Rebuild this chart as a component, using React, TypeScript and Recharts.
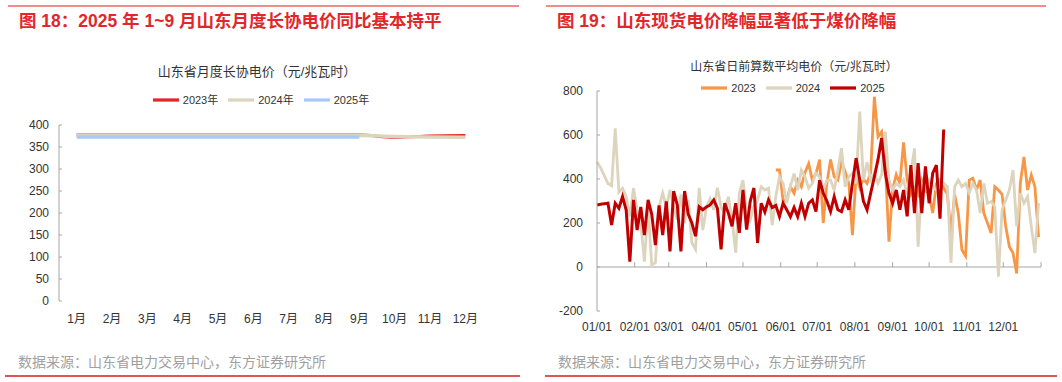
import { LineChart, Line, XAxis, YAxis, Legend, ReferenceLine } from "recharts";

const FONT = '"Liberation Sans", Arial, "Noto Sans CJK SC", sans-serif';
const AXIS = "#A6A6A6";

// 图18: monthly long-term contract price (元/兆瓦时)
const monthLabels = ["1月", "2月", "3月", "4月", "5月", "6月", "7月", "8月", "9月", "10月", "11月", "12月"];
const contract2023 = [377, 377, 377, 377, 377, 377, 377, 377, 377, 372, 375, 376];
const contract2024 = [376, 376, 376, 376, 376, 376, 376, 376, 376, 374, 373, 372];
const contract2025 = [373, 373, 373, 373, 373, 373, 373, 373, 373];

// 图19: day-ahead average spot price, read every 3 days
const STEP = 3;
const spot2023StartDay = 147;
const spot2023 = [
  441, 441, 300, 305, 365, 336, 395, 365, 430, 470,
  395, 425, 488, 200, 380, 489, 410, 395, 476, 433,
  380, 145, 420, 360, 400, 380, 430, 774, 592, 615,
  470, 115, 350, 420, 380, 566, 395, 330, 360, 330,
  395, 350, 330, 245, 380, 395, 360, 330, 155, 330,
  245, 77, 50, 395, 403, 350, 395, 245, 200, 155,
  365, 350, 330, 185, 92, 64, -29, 380, 500, 350,
  418, 365, 136,
];
const spot2024 = [
  479, 450, 415, 380, 370, 630, 340, 358, 320, 230,
  358, 260, 200, 24, 273, 9, 20, 273, 336, 273,
  350, 273, 215, 330, 200, 305, 110, 80, 360, 168,
  273, 310, 260, 360, 273, 245, 320, 215, 65, 336,
  395, 252, 214, 275, 305, 365, 350, 358, 190, 320,
  410, 380, 290, 365, 425, 350, 440, 410, 358, 380,
  425, 410, 350, 395, 395, 350, 440, 540, 365, 410,
  425, 380, 706, 395, 476, 395, 425, 380, 420, 615,
  395, 350, 380, 365, 395, 330, 430, 539, 92, 380,
  350, 395, 365, 350, 395, 380, 365, 18, 365, 395,
  365, 380, 336, 380, 350, 245, 380, 290, 298, 275,
  -44, 260, 305, 350, 440, 185, 336, 290, 320, 185,
  63, 290,
];
const spot2025 = [
  282, 285, 288, 290, 191, 290, 267, 320, 259, 24,
  305, 168, 273, 145, 305, 240, 100, 280, 145, 298,
  71, 345, 282, 71, 345, 240, 200, 140, 273, 260,
  273, 282, 305, 267, 80, 290, 245, 185, 290, 155,
  350, 170, 300, 359, 109, 290, 250, 305, 270, 280,
  229, 290, 260, 229, 270, 229, 290, 230, 290, 305,
  252, 395, 336, 300, 252, 320, 260, 252, 305, 260,
  380, 495, 395, 300, 260, 336, 410, 488, 586, 427,
  336, 290, 350, 260, 350, 230, 463, 245, 472, 245,
  457, 290, 427, 463, 220, 625,
];
const monthStartDays = [0, 31, 59, 90, 120, 151, 181, 212, 243, 273, 304, 334];
const dateLabels = ["01/01", "02/01", "03/01", "04/01", "05/01", "06/01", "07/01", "08/01", "09/01", "10/01", "11/01", "12/01"];

const contractData = monthLabels.map((_, i) => ({
  m: i + 1,
  y2023: contract2023[i],
  y2024: contract2024[i],
  y2025: i < contract2025.length ? contract2025[i] : null,
}));

const spotData = spot2024.map((v, i) => {
  const day = i * STEP;
  const j = (day - spot2023StartDay) / STEP;
  return {
    day,
    y2023: j >= 0 && j < spot2023.length ? spot2023[j] : null,
    y2024: v,
    y2025: i < spot2025.length ? spot2025[i] : null,
  };
});

const tickText = { fontSize: 12, fill: "#333", fontFamily: FONT };
const legendFmt = (v: string) => <span style={{ color: "#333", fontSize: 11 }}>{v}</span>;

const Header = ({ left, width, text }: { left: number; width: number; text: string }) => (
  <>
    <div style={{ position: "absolute", left, top: 5, width, height: 2, background: "#F08C8C" }} />
    <div
      style={{
        position: "absolute",
        left: left + 11,
        top: 7,
        fontSize: 17.5,
        fontWeight: 700,
        color: "#E3262A",
        whiteSpace: "nowrap",
        fontFamily: FONT,
      }}
    >
      {text}
    </div>
  </>
);

const Footer = ({ left, width }: { left: number; width: number }) => (
  <>
    <div
      style={{
        position: "absolute",
        left: left + 13,
        top: 351,
        fontSize: 14,
        color: "#A0A0A0",
        whiteSpace: "nowrap",
        fontFamily: FONT,
      }}
    >
      数据来源：山东省电力交易中心，东方证券研究所
    </div>
    <div style={{ position: "absolute", left, top: 375, width, height: 2, background: "#E05555" }} />
  </>
);

const ChartTitle = ({ center, top, size, text }: { center: number; top: number; size: number; text: string }) => (
  <div
    style={{
      position: "absolute",
      left: center - 200,
      width: 400,
      top,
      textAlign: "center",
      fontSize: size,
      color: "#333",
      fontFamily: FONT,
    }}
  >
    {text}
  </div>
);

export default function App() {
  return (
    <div style={{ position: "absolute", left: 0, top: 0, width: 1062, height: 382, background: "#fff", fontFamily: FONT }}>
      <Header left={8} width={511} text="图 18：2025 年 1~9 月山东月度长协电价同比基本持平" />
      <Header left={546} width={500} text="图 19：山东现货电价降幅显著低于煤价降幅" />
      <ChartTitle center={257} top={61} size={13} text="山东省月度长协电价（元/兆瓦时）" />
      <ChartTitle center={794} top={57} size={12} text="山东省日前算数平均电价（元/兆瓦时）" />

      <div style={{ position: "absolute", left: 0, top: 0 }}>
        <LineChart width={530} height={382} data={contractData} margin={{ top: 125, right: 47, bottom: 51, left: 0 }}>
          <XAxis
            dataKey="m"
            type="number"
            domain={[0.5, 12.5]}
            ticks={[0.5, 1.5, 2.5, 3.5, 4.5, 5.5, 6.5, 7.5, 8.5, 9.5, 10.5, 11.5, 12.5]}
            tick={false}
            tickSize={-5}
            height={0}
            stroke={AXIS}
          />
          <XAxis
            xAxisId="lbl"
            dataKey="m"
            type="number"
            domain={[0.5, 12.5]}
            ticks={[1, 2, 3, 4, 5, 6, 7, 8, 9, 10, 11, 12]}
            tickFormatter={(v: number) => monthLabels[v - 1]}
            axisLine={false}
            tickLine={false}
            tickSize={0}
            tickMargin={13}
            height={30}
            tick={tickText}
          />
          <YAxis
            domain={[0, 400]}
            ticks={[0, 50, 100, 150, 200, 250, 300, 350, 400]}
            width={59}
            stroke={AXIS}
            tickSize={-3}
            tickMargin={13}
            tick={tickText}
          />
          <Legend
            verticalAlign="middle"
            align="center"
            iconType="plainline"
            iconSize={26}
            formatter={legendFmt}
            wrapperStyle={{ top: 86, left: 116, width: 300, lineHeight: "26px", whiteSpace: "nowrap" }}
          />
          <Line dataKey="y2023" name="2023年" type="monotone" stroke="#E3262A" strokeWidth={3} dot={false} isAnimationActive={false} />
          <Line dataKey="y2024" name="2024年" type="monotone" stroke="#DDD4BD" strokeWidth={3.5} dot={false} isAnimationActive={false} />
          <Line dataKey="y2025" name="2025年" type="monotone" stroke="#A8C9F7" strokeWidth={3.5} dot={false} isAnimationActive={false} />
        </LineChart>
      </div>

      <div style={{ position: "absolute", left: 530, top: 0 }}>
        <LineChart width={532} height={382} data={spotData} margin={{ top: 91, right: 21, bottom: 41, left: 0 }}>
          <XAxis
            dataKey="day"
            type="number"
            domain={[0, 365]}
            ticks={monthStartDays}
            tickFormatter={(v: number) => dateLabels[monthStartDays.indexOf(v)]}
            axisLine={false}
            tickLine={false}
            tickSize={0}
            tickMargin={11}
            height={30}
            tick={tickText}
            interval={0}
          />
          <YAxis
            domain={[-200, 800]}
            ticks={[-200, 0, 200, 400, 600, 800]}
            width={67}
            stroke={AXIS}
            tickSize={-3}
            tickMargin={17}
            tick={tickText}
          />
          <ReferenceLine y={0} stroke={AXIS} />
          {monthStartDays.slice(1).concat([365]).map((d) => (
            <ReferenceLine key={d} segment={[{ x: d, y: 0 }, { x: d, y: 22 }]} stroke={AXIS} />
          ))}
          <Legend
            verticalAlign="middle"
            align="center"
            iconType="plainline"
            iconSize={26}
            formatter={legendFmt}
            wrapperStyle={{ top: 74, left: 158, width: 220, lineHeight: "26px", whiteSpace: "nowrap" }}
          />
          <Line dataKey="y2023" name="2023" stroke="#F79646" strokeWidth={2.8} dot={false} isAnimationActive={false} />
          <Line dataKey="y2024" name="2024" stroke="#DDD4BD" strokeWidth={2.8} dot={false} isAnimationActive={false} />
          <Line dataKey="y2025" name="2025" stroke="#C00000" strokeWidth={3} dot={false} isAnimationActive={false} />
        </LineChart>
      </div>

      <Footer left={5} width={515} />
      <Footer left={545} width={512} />
    </div>
  );
}
